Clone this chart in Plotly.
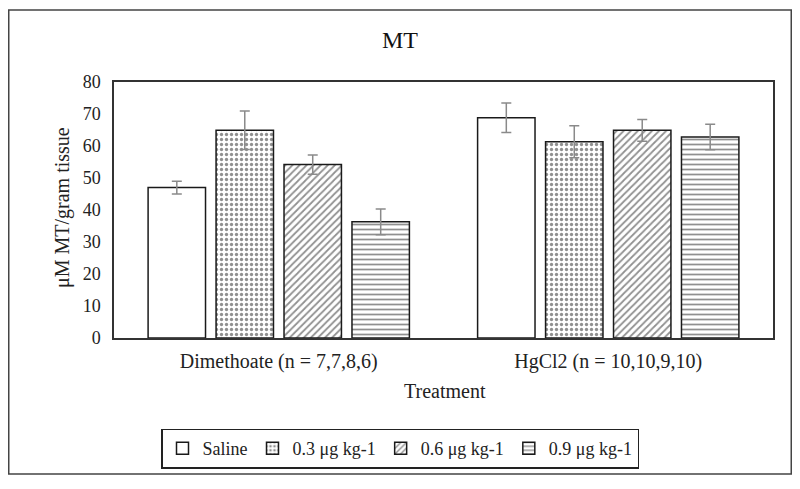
import plotly.graph_objects as go

categories = ["Dimethoate (n = 7,7,8,6)", "HgCl2 (n = 10,10,9,10)"]
series_names = ["Saline", "0.3 μg kg-1", "0.6 μg kg-1", "0.9 μg kg-1"]
saline = [47.0, 68.8]
dose_03 = [64.9, 61.3]
dose_06 = [54.2, 64.9]
dose_09 = [36.3, 62.8]
err_saline = [2.0, 4.6]
err_03 = [6.0, 5.0]
err_06 = [3.0, 3.4]
err_09 = [4.0, 4.0]
y_ticks = [0, 10, 20, 30, 40, 50, 60, 70, 80]

values = [saline, dose_03, dose_06, dose_09]
errors = [err_saline, err_03, err_06, err_09]
patterns = ["", ".", "/", "-"]

FONT = "Liberation Serif, Times New Roman, serif"

# figure is 784x473 (page body has 8px margin)
W, H = 784, 473
L, R, T, B = 106, 19, 74, 139
PW, PH = W - L - R, H - T - B


def px(fx):
    return (fx - L) / PW


def py(fy):
    return (H - B - fy) / PH


fig = go.Figure()
for name, vals, errs, pat in zip(series_names, values, errors, patterns):
    marker = dict(color="white", line=dict(color="#1a1a1a", width=1.5))
    if pat:
        marker["pattern"] = dict(shape=pat, fgcolor="#222222", bgcolor="white",
                                 size=5, solidity=0.35)
    fig.add_trace(go.Bar(
        x=categories, y=vals, name=name, marker=marker,
        error_y=dict(type="data", array=errs, visible=True,
                     color="#8a8a8a", thickness=1.5, width=5),
    ))

fig.update_layout(
    width=W, height=H,
    margin=dict(l=L, r=R, t=T, b=B),
    paper_bgcolor="white", plot_bgcolor="white",
    barmode="group", bargap=0.175, bargroupgap=0.155,
    font=dict(family=FONT, size=18, color="#222222"),
    title=dict(text="MT", x=392 / W, xanchor="center",
               y=1 - 32 / H, yanchor="middle",
               font=dict(family=FONT, size=24, color="#111111")),
    showlegend=True,
    legend=dict(orientation="h", x=px(392), xanchor="center", y=py(426), yanchor="top",
                bordercolor="#222222", borderwidth=1.5, bgcolor="white",
                font=dict(family=FONT, size=18, color="#222222"),
                itemwidth=30, traceorder="normal"),
    xaxis=dict(showline=True, linecolor="#333333", linewidth=1.5, mirror=True,
               ticks="outside", tickcolor="rgba(0,0,0,0)", ticklen=4,
               showgrid=False, tickfont=dict(size=20)),
    yaxis=dict(range=[0, 80], tickvals=y_ticks, showline=True, linecolor="#333333",
               linewidth=1.5, mirror=True, ticks="outside", tickcolor="rgba(0,0,0,0)",
               ticklen=8, showgrid=False, zeroline=False,
               tickfont=dict(size=18)),
    annotations=[
        dict(text="Treatment", xref="paper", yref="paper", x=px(437), y=py(388),
             xanchor="center", yanchor="middle", showarrow=False,
             font=dict(family=FONT, size=20, color="#222222")),
        dict(text="μM MT/gram tissue", xref="paper", yref="paper", x=px(54), y=py(202),
             xanchor="center", yanchor="middle", textangle=-90, showarrow=False,
             font=dict(family=FONT, size=20, color="#222222")),
    ],
    shapes=[dict(type="rect", xref="paper", yref="paper",
                 x0=px(0.75), x1=px(W - 0.75), y0=py(H - 0.75), y1=py(0.75),
                 line=dict(color="#444444", width=1.5), fillcolor="rgba(0,0,0,0)",
                 layer="below")],
)

fig.write_html("out.html")
